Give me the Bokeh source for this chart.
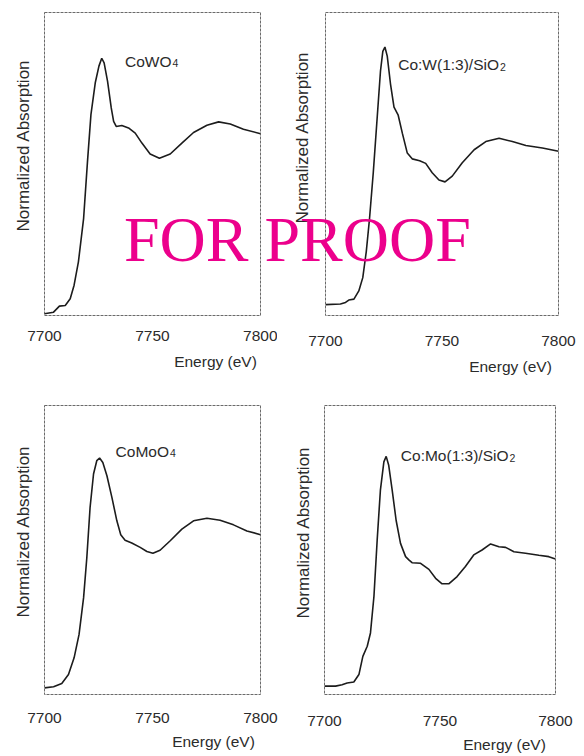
from bokeh.plotting import figure
from bokeh.models import Label, FixedTicker, Range1d, Title, Div, LinearAxis
from bokeh.layouts import column, row
from bokeh.embed import file_html
from bokeh.resources import INLINE

# ---------------- data ----------------
energy_ticks = [7700, 7750, 7800]
x_title = "Energy (eV)"
y_title = "Normalized Absorption"

cowo4_e = [7700, 7704.2, 7706.9, 7709.6, 7711.9, 7713.7, 7715.7, 7718.1, 7719.9, 7721.5,
           7723.5, 7725.2, 7726.5, 7727.6, 7729.2, 7730.9, 7732.0, 7733.2, 7735.8, 7738.9,
           7742.0, 7745.1, 7748.9, 7753.2, 7758.2, 7763.6, 7769.0, 7775.2, 7780.6, 7786.0,
           7792.1, 7800]
cowo4_y = [0.006, 0.011, 0.031, 0.033, 0.055, 0.10, 0.177, 0.32, 0.508, 0.663,
           0.768, 0.823, 0.849, 0.834, 0.773, 0.685, 0.641, 0.624, 0.627, 0.619,
           0.602, 0.569, 0.533, 0.519, 0.533, 0.569, 0.604, 0.628, 0.639, 0.632,
           0.615, 0.600]

cow_e = [7700, 7706.4, 7708.6, 7710.0, 7712.2, 7714.3, 7716.0, 7717.5, 7718.9, 7720.5,
         7722.2, 7723.6, 7724.6, 7725.5, 7726.5, 7727.9, 7729.4, 7731.2, 7733.0, 7735.1,
         7737.2, 7740.4, 7743.0, 7745.8, 7748.7, 7751.3, 7754.4, 7758.7, 7763.8, 7768.8,
         7774.5, 7780.2, 7786.0, 7793.1, 7800]
cow_y = [0.036, 0.038, 0.043, 0.051, 0.054, 0.081, 0.125, 0.211, 0.320, 0.471,
         0.655, 0.807, 0.872, 0.886, 0.856, 0.764, 0.688, 0.661, 0.601, 0.536,
         0.517, 0.511, 0.502, 0.471, 0.447, 0.441, 0.460, 0.504, 0.547, 0.574,
         0.585, 0.574, 0.561, 0.553, 0.542]

comoo4_e = [7700, 7704.2, 7708.0, 7711.1, 7713.7, 7716.0, 7718.1, 7719.6, 7721.1, 7722.7,
            7724.2, 7725.5, 7727.0, 7728.9, 7731.2, 7733.5, 7735.3, 7737.3, 7740.4, 7744.3,
            7747.4, 7750.2, 7753.5, 7758.2, 7763.6, 7769.0, 7775.2, 7781.3, 7787.5, 7793.7,
            7800]
comoo4_y = [0.023, 0.027, 0.038, 0.069, 0.127, 0.208, 0.335, 0.474, 0.647, 0.763,
            0.809, 0.818, 0.803, 0.757, 0.682, 0.601, 0.553, 0.534, 0.524, 0.509,
            0.495, 0.489, 0.499, 0.532, 0.572, 0.601, 0.610, 0.603, 0.587, 0.566,
            0.553]

como_e = [7700, 7704.8, 7707.6, 7709.8, 7712.7, 7714.9, 7716.6, 7718.5, 7719.9, 7721.4,
          7722.8, 7724.2, 7725.7, 7726.7, 7727.8, 7729.3, 7731.0, 7732.9, 7735.1, 7736.5,
          7737.9, 7741.6, 7745.2, 7748.1, 7750.9, 7753.8, 7757.4, 7761.0, 7764.6, 7768.2,
          7771.9, 7775.5, 7778.4, 7782.0, 7787.0, 7792.8, 7797.1, 7800]
como_y = [0.029, 0.029, 0.034, 0.040, 0.043, 0.069, 0.132, 0.167, 0.213, 0.339,
          0.534, 0.707, 0.805, 0.824, 0.793, 0.707, 0.603, 0.523, 0.477, 0.466,
          0.456, 0.454, 0.433, 0.402, 0.383, 0.383, 0.408, 0.443, 0.483, 0.500,
          0.521, 0.511, 0.509, 0.494, 0.489, 0.482, 0.477, 0.469]

sample_main = ["CoWO", "Co:W(1:3)/SiO", "CoMoO", "Co:Mo(1:3)/SiO"]
sample_sub = ["4", "2", "4", "2"]
watermark = "FOR PROOF"

# ---------------- layout geometry (page pixels) ----------------
# frames in one row share top/bottom so the row keeps them aligned
panels = [
    dict(e=cowo4_e, y=cowo4_y, origin=(0, 0), size=(277, 377), frame=(44, 260, 12, 315),
         title_end=(171, 60.5), sub_base=62.5, ylab=(22, 145), xlab_x=215,
         standoff=15, label_standoff=9),
    dict(e=cow_e, y=cow_y, origin=(277, 0), size=(307, 377), frame=(325, 558, 12, 315),
         title_end=(498.5, 64), sub_base=66.5, ylab=(300, 137), xlab_x=510,
         standoff=20, label_standoff=9),
    dict(e=comoo4_e, y=comoo4_y, origin=(0, 377), size=(280, 379), frame=(44, 260, 405, 694),
         title_end=(168.5, 450.5), sub_base=452.5, ylab=(18, 531), xlab_x=213,
         standoff=18, label_standoff=7),
    dict(e=como_e, y=como_y, origin=(280, 377), size=(304, 379), frame=(324, 555, 405, 694),
         title_end=(508, 455), sub_base=457.5, ylab=(302, 532), xlab_x=504,
         standoff=21, label_standoff=7),
]

FONT = "Liberation Sans"
TXT = "#2b2b2b"
TICK_PX, XT_PX, YT_PX = 15.5, 15.5, 17
YT_BOX = 1.22          # height of the y-title box in em, as laid out by Bokeh
YT_LEN = 10.114        # length of the y title in em
wm_left, wm_base, wm_size = 124, 261.5, 64  # watermark, page pixels


def style_axis(ax, standoff):
    ax.major_tick_line_color = None
    ax.minor_tick_line_color = None
    ax.axis_line_color = None
    ax.major_tick_out = 0
    ax.major_tick_in = 0
    ax.major_label_standoff = standoff
    ax.major_label_text_font = FONT
    ax.major_label_text_font_size = f"{TICK_PX}px"
    ax.major_label_text_color = TXT


figs = []
for i, pn in enumerate(panels):
    ox, oy = pn["origin"]
    w, h = pn["size"]
    l, r, t, b = pn["frame"]
    bl, br, bt, bb = l - ox, ox + w - r, t - oy, oy + h - b

    def dx(gx, l=l, r=r):
        return energy_ticks[0] + (gx - l) / (r - l) * (energy_ticks[-1] - energy_ticks[0])

    def dy(gy, t=t, b=b):
        return (b - gy) / (b - t)

    p = figure(width=w, height=h, output_backend="svg", toolbar_location=None,
               x_range=Range1d(energy_ticks[0], energy_ticks[-1]), y_range=Range1d(0, 1),
               y_axis_location=None,
               min_border_left=bl, min_border_right=br,
               min_border_top=bt, min_border_bottom=bb)
    p.grid.visible = False
    p.outline_line_color = "#6a6a6a"
    p.outline_line_width = 1
    p.outline_line_dash = "3 1"
    p.background_fill_color = "white"
    p.border_fill_color = "white"

    ax = p.xaxis[0]
    ax.ticker = FixedTicker(ticks=energy_ticks)
    style_axis(ax, pn["standoff"])

    # x title: a second axis row below the tick labels, carrying one label
    xpos = round(dx(pn["xlab_x"]), 3)
    ax2 = LinearAxis(ticker=FixedTicker(ticks=[xpos]), major_label_overrides={xpos: x_title})
    style_axis(ax2, pn["label_standoff"])
    p.add_layout(ax2, "below")

    p.line(pn["e"], pn["y"], line_color="#1c1c1c", line_width=1.6)

    # sample name with subscript (inside the frame)
    tx, ty = pn["title_end"]
    p.add_layout(Label(x=dx(tx), y=dy(ty), text=sample_main[i], text_font=FONT,
                       text_font_size="15.5px", text_color=TXT, text_align="right",
                       text_baseline="alphabetic"))
    p.add_layout(Label(x=dx(tx + 1), y=dy(pn["sub_base"]), text=sample_sub[i], text_font=FONT,
                       text_font_size="10.5px", text_color=TXT, text_align="left",
                       text_baseline="alphabetic"))

    # y title on the left, shifted up along the frame
    yx, yy = pn["ylab"]
    th = YT_BOX * YT_PX
    d = l - yx
    s = min(2 * d - th, bl - th - 0.5)
    p.add_layout(Title(text=y_title, align="left", offset=b - (yy + YT_LEN * YT_PX / 2),
                       vertical_align="middle", standoff=max(int(s), 0),
                       text_font=FONT, text_font_size=f"{YT_PX}px", text_font_style="normal",
                       text_color=TXT), "left")
    figs.append(p)

layout = column(row(figs[0], figs[1], spacing=0), row(figs[2], figs[3], spacing=0), spacing=0)

# watermark spanning both upper panels (HTML text laid over the figures)
asc, desc = 0.891, 0.216
wm_top = wm_base - ((wm_size - wm_size * (asc + desc)) / 2 + wm_size * asc)
wm = Div(text=f'<span style="display:block;white-space:nowrap;font-family:\'Liberation Serif\';'
              f'font-size:{wm_size}px;line-height:{wm_size}px;color:#EC008C;">{watermark}</span>',
         width=400, height=80,
         styles={"position": "absolute", "left": f"{wm_left}px", "top": f"{wm_top:.1f}px",
                 "z-index": "10", "margin": "0", "padding": "0", "pointer-events": "none"})

with open("out.html", "w") as f:
    f.write(file_html([layout, wm], INLINE))
